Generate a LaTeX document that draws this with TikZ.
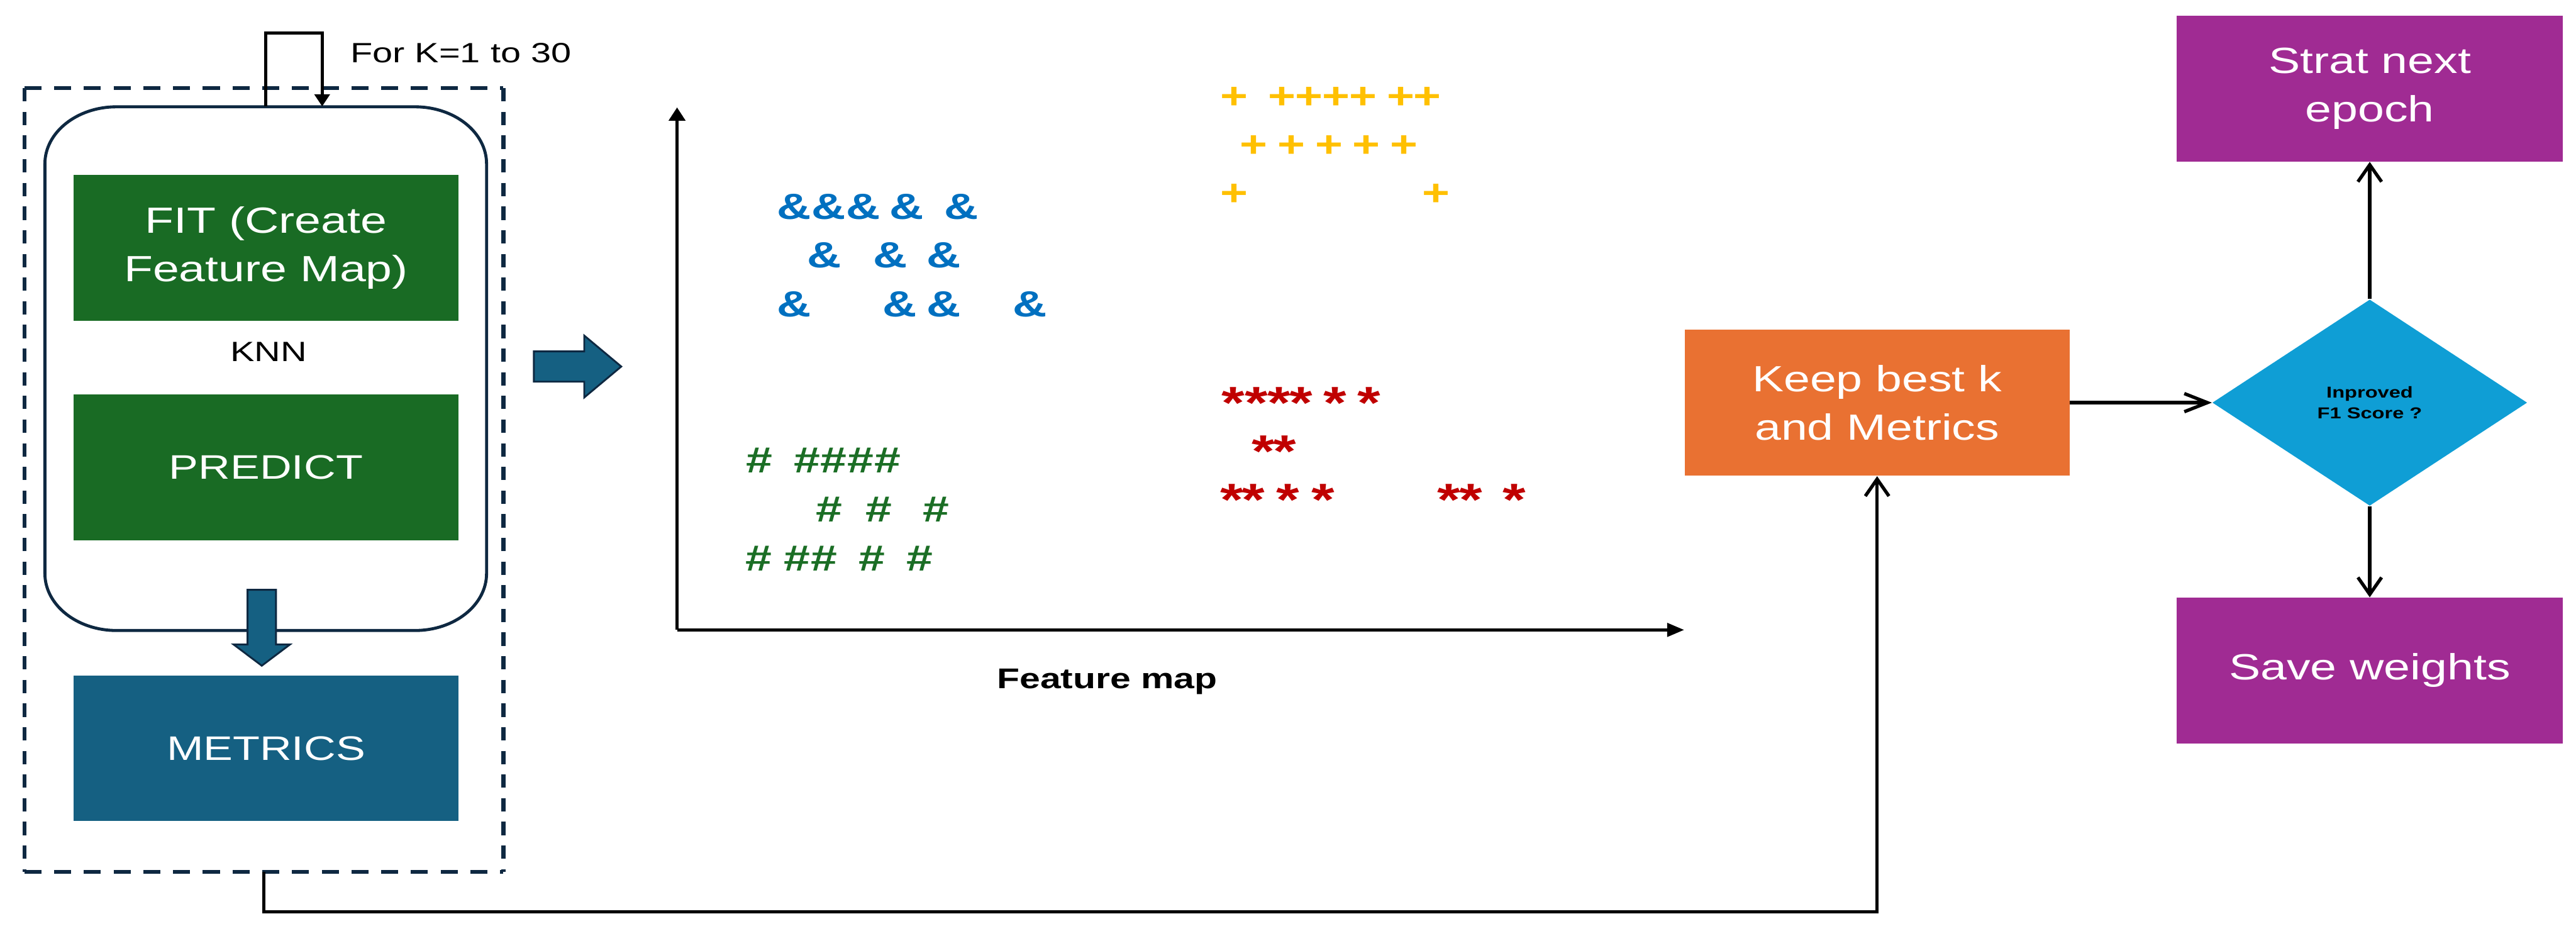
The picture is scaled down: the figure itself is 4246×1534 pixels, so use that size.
\documentclass[tikz,border=0pt]{standalone}
\usepackage{fontspec}
\setmainfont{Liberation Sans}[FakeStretch=1.3]
\usetikzlibrary{arrows.meta,shapes.geometric}
\definecolor{navy}{HTML}{0E2841}
\definecolor{bgreen}{HTML}{196B24}
\definecolor{bblue}{HTML}{156082}
\definecolor{borange}{HTML}{E97132}
\definecolor{bturq}{HTML}{0F9ED5}
\definecolor{bpurple}{HTML}{A02B93}
\definecolor{ampblue}{HTML}{0070C0}
\definecolor{plusgold}{HTML}{FFC000}
\definecolor{hashgreen}{HTML}{1B6E25}
\definecolor{starred}{HTML}{C00000}
\begin{document}
\begin{tikzpicture}[x=0.1mm,y=-0.1mm,
  box/.style={rectangle, inner sep=0pt, text=white, align=center,
    minimum width=63.5mm, minimum height=24.1mm,
    font=\fontsize{6mm}{8mm}\selectfont},
  conn/.style={line width=0.55mm, black},
  vbarb/.style={-{Straight Barb[length=2.8mm,width=3.9mm]}},
  hbarb/.style={-{Straight Barb[length=3.8mm,width=3mm]}},
  axis/.style={line width=0.5mm, black},
  blockarrow/.style={fill=bblue, draw=navy, line width=0.3mm},
  symb/.style={inner sep=0pt, font=\bfseries\fontsize{6mm}{7mm}\selectfont},
  amp/.style={symb, text=ampblue},
  plus/.style={symb, text=plusgold},
  hash/.style={symb, text=hashgreen},
  star/.style={symb, text=starred, font=\bfseries\fontsize{7.5mm}{8mm}\selectfont}
]
\useasboundingbox (0,0) rectangle (4246,1534);

% dashed container
\node[rectangle, inner sep=0pt, minimum width=78.8mm, minimum height=129mm] (dash) at (435,791) {};
\draw[navy, line width=0.65mm, dash pattern=on 2.8mm off 2.1mm] (dash.north west) -- (dash.north east);
\draw[navy, line width=0.65mm, dash pattern=on 2.8mm off 2.1mm] (dash.south west) -- (dash.south east);
\draw[navy, line width=0.65mm, dash pattern=on 2.2mm off 1.7mm] (dash.north west) -- (dash.south west);
\draw[navy, line width=0.65mm, dash pattern=on 2.2mm off 1.7mm] (dash.north east) -- (dash.south east);

% rounded container
\node[rectangle, inner sep=0pt, minimum width=72.8mm, minimum height=86.3mm] (outer) at (438,607.5) {};
\draw[navy, line width=0.5mm] (74,270) -- (74,945) .. controls (74,997) and (127,1039) .. (192,1039)
  -- (684,1039) .. controls (749,1039) and (802,997) .. (802,945)
  -- (802,270) .. controls (802,218) and (749,176) .. (684,176)
  -- (192,176) .. controls (127,176) and (74,218) .. (74,270) -- cycle;

\node[box, fill=bgreen] (fit) at (438.5,408.5) {FIT (Create\\Feature Map)};
\node[font=\fontsize{4.6mm}{5mm}\selectfont, inner sep=0pt] (knn) at (443,580) {KNN};
\node[box, fill=bgreen, minimum height=24mm, font=\fontsize{5.6mm}{7mm}\selectfont] (predict) at (438.5,770) {PREDICT};
\node[box, fill=bblue, minimum height=24mm, font=\fontsize{5.6mm}{7mm}\selectfont] (metrics) at (438.5,1233) {METRICS};

% loop arrow
\draw[conn, -{Triangle[length=2mm,width=2.5mm]}] (outer.north) -- ++(0,-121) -| ([xshift=9.3mm]outer.north);
\node[anchor=base west, inner sep=0pt, font=\fontsize{4.6mm}{5mm}\selectfont] (loop) at (577,103) {For K=1 to 30};

% block arrows
\draw[blockarrow] (408,972) -- (455,972) -- (455,1062) -- (478,1062) -- (431.5,1097) -- (385,1062) -- (408,1062) -- cycle;
\draw[blockarrow] (880,579) -- (963,579) -- (963,553) -- (1024,604) -- (963,655) -- (963,629) -- (880,629) -- cycle;

% feature map axes
\coordinate (O) at (1116,1038);
\coordinate (ytip) at (1116,177);
\coordinate (xtip) at (2776,1038);
\draw[axis, -{Triangle[length=2.2mm,width=2.7mm]}] (O) -- (ytip);
\draw[axis, -{Triangle[length=2.8mm,width=2.2mm]}] (O) -- (xtip);
\node[anchor=base, inner sep=0pt, font=\bfseries\fontsize{4.7mm}{5mm}\selectfont] (fmap) at (1825,1135) {Feature map};

\foreach \x/\y [count=\i] in {1309/341,1366/341,1423/341,1494/341,1585/341,
  1359/421,1467/421,1556/421, 1309/501,1483/501,1556/501,1698/501}
  \node[amp] (amp\i) at (\x,\y) {\&};
\foreach \x/\y [count=\i] in {2034.5/161,2113/161,2157.5/161,2202/161,2247/161,2309/161,2353/161,
  2066.5/241,2128.5/241,2190.5/241,2252.5/241,2314.5/241, 2034.5/321,2367/321}
  \node[plus] (plus\i) at (\x,\y) {+};
\foreach \x/\y [count=\i] in {1252/759,1330/759,1374/759,1418/759,1463/759,
  1367/839,1449/839,1543/839, 1251/920,1314/920,1358/920,1437/920,1516/920}
  \node[hash] (hash\i) at (\x,\y) {\#};
\foreach \x/\y [count=\i] in {2033/664,2071/664,2108/664,2145/664,2200/664,2257/664,
  2082/744,2118/744, 2031/824,2066/824,2123/824,2181/824,2388/824,2424/824,2496/824}
  \node[star] (star\i) at (\x,\y) {*};

% right part
\node[box, fill=borange, minimum width=63.4mm] (keep) at (3094,663.5) {Keep best k\\and Metrics};
\node[diamond, fill=bturq, inner sep=0pt, aspect=1.53, minimum width=51.9mm, minimum height=34mm,
  align=center, font=\bfseries\fontsize{2.6mm}{3.5mm}\selectfont] (dia) at (3906,663.5) {Inproved\\F1 Score ?};
\node[box, fill=bpurple, minimum width=63.6mm, minimum height=24mm] (next) at (3906,146) {Strat next\\epoch};
\node[box, fill=bpurple, minimum width=63.6mm, minimum height=24mm] (save) at (3906,1105) {Save weights};

\draw[conn, hbarb] (keep.east) -- (dia.west);
\draw[conn, vbarb] (dia.north) -- (next.south);
\draw[conn, vbarb] (dia.south) -- (save.north);
\draw[conn, vbarb] (dash.south) -- ++(0,66) -| (keep.south);
\end{tikzpicture}
\end{document}
